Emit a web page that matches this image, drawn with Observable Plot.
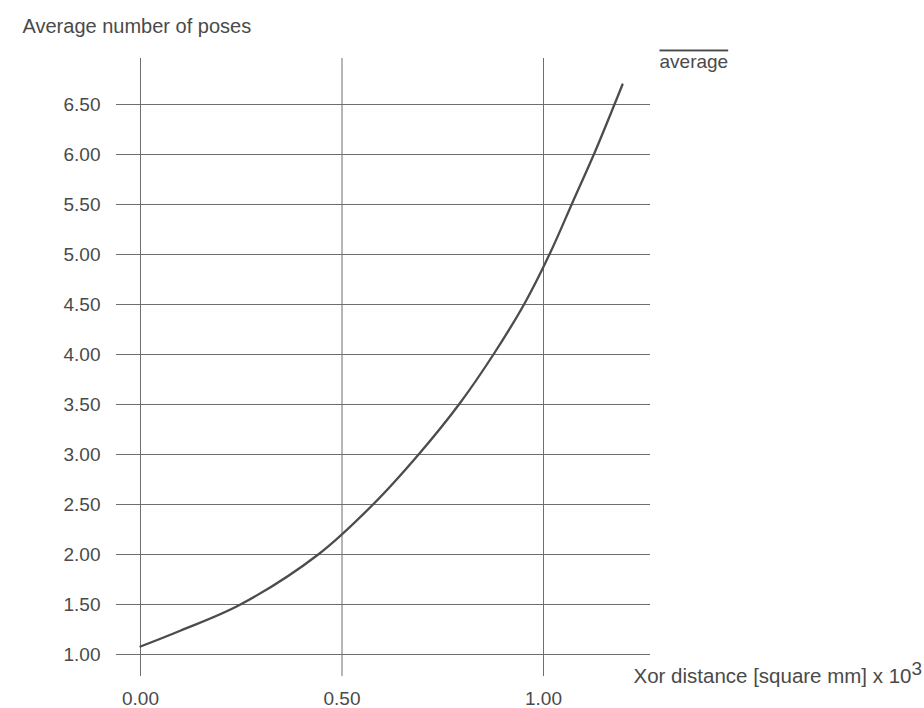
<!DOCTYPE html>
<html>
<head>
<meta charset="utf-8">
<script src="https://cdn.jsdelivr.net/npm/d3@7"></script>
<script src="https://cdn.jsdelivr.net/npm/@observablehq/plot@0.6"></script>
<style>
  html, body { margin: 0; padding: 0; background: #fff; }
  #chart svg { display: block; }
</style>
</head>
<body>
<div id="chart"></div>
<script>
// Data
const xDistance = [0, 0.10, 0.248, 0.441, 0.577, 0.69, 0.792, 0.879, 0.953, 1.017, 1.072, 1.127, 1.178, 1.196];
const avgPoses  = [1.08, 1.24, 1.50, 2.00, 2.50, 3.00, 3.51, 4.02, 4.51, 5.02, 5.52, 6.02, 6.52, 6.70];
const xTicks = [0, 0.5, 1.0];
const yTicks = [1.0, 1.5, 2.0, 2.5, 3.0, 3.5, 4.0, 4.5, 5.0, 5.5, 6.0, 6.5];
const yTitle = "Average number of poses";
const xTitle = "Xor distance [square mm] x 10";
const xTitleExp = "3";
const seriesName = "average";

const data = xDistance.map((x, i) => ({x, y: avgPoses[i]}));
const ink = "#4a4a4a";
const grid = "#6e6e6e";
const fmt = d3.format(".2f");

const chart = Plot.plot({
  width: 924,
  height: 708,
  marginLeft: 116,
  marginRight: 274,
  marginTop: 58,
  marginBottom: 32,
  style: {fontFamily: "'Liberation Sans', Arial, sans-serif", fontSize: "19px", color: ink, background: "#fff"},
  x: {domain: [0, 1], range: [140, 543]},
  y: {domain: [1, 6.5], range: [654, 104]},
  marks: [
    Plot.gridY(yTicks, {stroke: grid, strokeOpacity: 1, strokeWidth: 1}),
    Plot.gridX(xTicks, {stroke: grid, strokeOpacity: 1, strokeWidth: 1}),
    Plot.axisY(yTicks, {tickSize: 0, tickPadding: 16, tickFormat: fmt, label: null, fill: ink, fontSize: 19}),
    Plot.axisX(xTicks, {tickSize: 0, tickPadding: 15, tickFormat: fmt, label: null, fill: ink, fontSize: 19}),
    Plot.line(data, {x: "x", y: "y", curve: "catmull-rom", stroke: "#4c4c4c", strokeWidth: 2.3}),
    Plot.text([yTitle], {frameAnchor: "top-left", textAnchor: "start", lineAnchor: "bottom", dx: -94, dy: -26, fill: ink, fontSize: 20}),
    Plot.text([seriesName], {frameAnchor: "top-right", textAnchor: "start", lineAnchor: "bottom", dx: 9, dy: 9, fill: ink, fontSize: 19, className: "series-label"}),
    Plot.text([xTitle], {frameAnchor: "bottom-right", textAnchor: "start", lineAnchor: "bottom", dx: -17, dy: 6, fill: ink, fontSize: 20.5, className: "x-title"})
  ]
});

// overline on the series name and superscript exponent on the x title
const sl = chart.querySelector(".series-label text");
if (sl) sl.style.textDecoration = "overline";
const xt = chart.querySelector(".x-title text");
if (xt) {
  const ts = document.createElementNS("http://www.w3.org/2000/svg", "tspan");
  ts.setAttribute("dy", "-0.4em");
  ts.setAttribute("font-size", "19");
  ts.textContent = xTitleExp;
  xt.appendChild(ts);
}
document.getElementById("chart").appendChild(chart);
</script>
</body>
</html>
